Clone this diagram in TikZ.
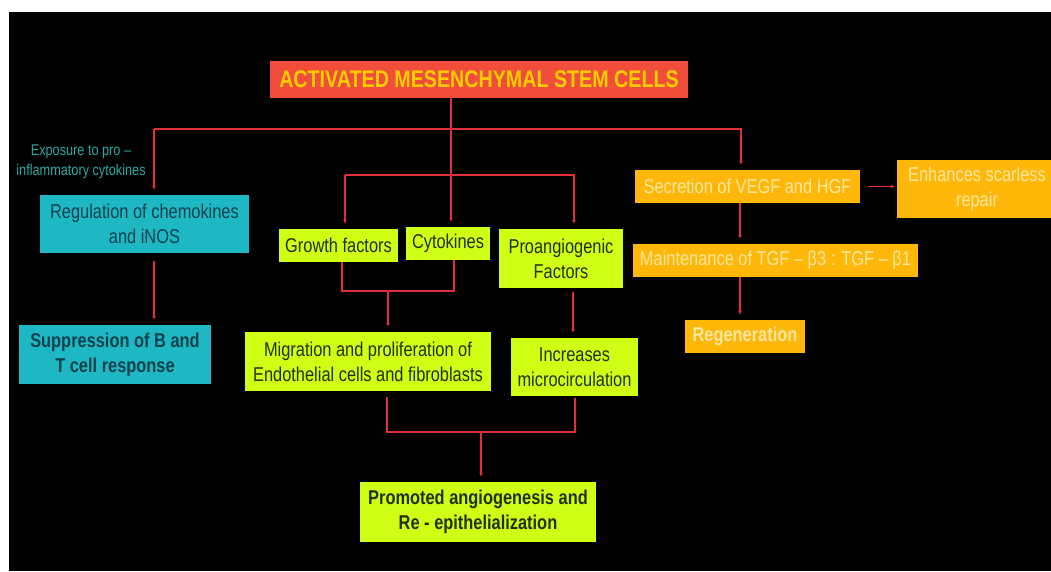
\documentclass[tikz,border=0pt]{standalone}
\usepackage{fontspec}
\setmainfont{Liberation Sans}[FakeStretch=0.82]
\usepackage{tikz}
\usetikzlibrary{arrows.meta,positioning,calc}
\definecolor{linered}{RGB}{226,46,56}
\definecolor{titlefill}{RGB}{240,78,58}
\definecolor{titletext}{RGB}{255,205,0}
\definecolor{tealfill}{RGB}{30,184,196}
\definecolor{tealtext}{RGB}{16,66,76}
\definecolor{limefill}{RGB}{206,255,20}
\definecolor{limetext}{RGB}{38,48,8}
\definecolor{orangefill}{RGB}{255,183,10}
\definecolor{orangetext}{RGB}{255,232,160}
\definecolor{exposetext}{RGB}{40,170,160}
\tikzstyle{box} = [inner sep=0pt,align=center,font=\fontsize{20}{25}\selectfont]
\tikzstyle{headbox} = [box,fill=titlefill,text=titletext,font=\bfseries\fontsize{24}{25}\selectfont]
\tikzstyle{tealbox} = [box,fill=tealfill,text=tealtext]
\tikzstyle{limebox} = [box,fill=limefill,text=limetext]
\tikzstyle{orangebox} = [box,fill=orangefill,text=orangetext]
\tikzstyle{link} = [draw=linered,line width=1.5pt]
\tikzstyle{flow} = [link,arrows={-Latex[length=4pt,width=4pt]},shorten >=5pt]

\begin{document}
\begin{tikzpicture}[x=1pt,y=-1pt]
      \useasboundingbox (0,0) rectangle (1051,571);
      \fill[white] (0,0) rectangle (1051,571);
      \fill[black] (9,12) rectangle (1051,571);

      \node (title)[headbox,minimum width=418pt,minimum height=37pt] at (479,79.5) {ACTIVATED MESENCHYMAL STEM CELLS};

      \node (expo)[align=center,text=exposetext,font=\fontsize{15.5}{20}\selectfont] at (81,162) {Exposure to pro --\\inflammatory cytokines};
      \node (reg)[tealbox,minimum width=209pt,minimum height=58pt] at (144.5,224) {Regulation of chemokines\\and iNOS};
      \node (supp)[tealbox,font=\bfseries\fontsize{20}{25}\selectfont,minimum width=192pt,minimum height=59pt] at (115,354.5) {Suppression of B and\\T cell response};

      \node (growth)[limebox,minimum width=119pt,minimum height=33pt] at (338.5,245.5) {Growth factors};
      \node (cyto)[limebox,minimum width=84pt,minimum height=33pt] at (448,243.5) {Cytokines};
      \node (proang)[limebox,minimum width=124pt,minimum height=59pt] at (561,258.5) {Proangiogenic\\Factors};
      \node (migr)[limebox,minimum width=246pt,minimum height=59pt] at (368,361.5) {Migration and proliferation of\\Endothelial cells and fibroblasts};
      \node (incr)[limebox,minimum width=127pt,minimum height=58pt] at (574.5,367) {Increases\\microcirculation};
      \node (prom)[limebox,font=\bfseries\fontsize{20}{25}\selectfont,minimum width=236pt,minimum height=60pt] at (478,512) {Promoted angiogenesis and\\Re - epithelialization};

      \node (sec)[orangebox,minimum width=225pt,minimum height=33pt] at (747.5,186.5) {Secretion of VEGF and HGF};
      \node (enh)[orangebox,minimum width=160pt,minimum height=58pt] at (977,189) {Enhances scarless\\repair};
      \node (maint)[orangebox,minimum width=285pt,minimum height=33pt] at (775.5,260.5) {Maintenance of TGF -- β3 : TGF -- β1};
      \node (regen)[orangebox,font=\bfseries\fontsize{20}{25}\selectfont,minimum width=120pt,minimum height=33pt] at (745,336.5) {Regeneration};

      % junctions
      \coordinate (hl) at (154,129);
      \coordinate (hr) at (741,129);
      \coordinate (hc) at (451,129);
      \coordinate (ml) at (345,175);
      \coordinate (mr) at (574,175);
      \coordinate (gl) at (342,291);
      \coordinate (gr) at (454,291);
      \coordinate (gm) at (388,291);
      \coordinate (px) at (573,300);
      \coordinate (bl) at (387,432);
      \coordinate (br) at (575,432);
      \coordinate (bm) at (481,432);
      \coordinate (sx) at (740,300);

      \draw[flow] (title.south -| hc) -- (cyto.north -| hc);
      \draw[flow] (hl) -- (hr) -- (hr |- sec.north);
      \draw[flow] (hl) -- (hl |- reg.north);
      \draw[flow] (ml) -- (mr) -- (mr |- proang.north);
      \draw[flow] (ml) -- (ml |- growth.north);
      \draw[flow,shorten <=8pt] (reg.south -| hl) -- (supp.north -| hl);

      \draw[link] (growth.south -| gl) -- (gl) -- (gr) -- (cyto.south -| gr);
      \draw[flow] (gm) -- (migr.north -| gm);
      \draw[flow,shorten <=4pt] (proang.south -| px) -- (incr.north -| px);
      \draw[link,shorten <=6pt,shorten >=2pt] (migr.south -| bl) -- (bl) -- (br) -- (incr.south -| br);
      \draw[flow] (bm) -- (prom.north -| bm);

      \draw[flow,shorten <=8pt,shorten >=2pt] (sec.east) -- (enh.west |- sec.east);
      \draw[flow] (sec.south -| sx) -- (maint.north -| sx);
      \draw[flow] (maint.south -| sx) -- (regen.north -| sx);
\end{tikzpicture}
\end{document}
